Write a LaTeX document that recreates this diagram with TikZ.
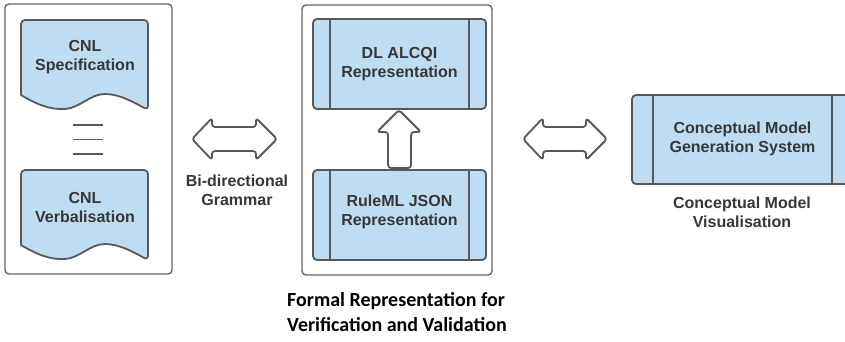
\documentclass[tikz,border=0pt]{standalone}
\usepackage{fontspec}
\setmainfont{Liberation Sans}
\newfontfamily\labelfont{Carlito}
\definecolor{boxfill}{RGB}{190,221,243}
\definecolor{edge}{RGB}{88,88,88}
\definecolor{frame}{RGB}{100,100,100}
\definecolor{ink}{RGB}{55,55,55}
\begin{document}
\begin{tikzpicture}[x=1pt,y=-1pt,
  txt/.style={font=\bfseries\fontsize{16}{19}\selectfont, text=ink, align=center, inner sep=0pt},
  caption/.style={font=\labelfont\bfseries\fontsize{20}{25}\selectfont, text=black, align=left, inner sep=0pt},
  panel/.style={draw=frame, line width=1.4pt, rounded corners=4pt, fill=white},
  shapeline/.style={draw=edge, line width=1.8pt, line join=round},
  procbox/.style={shapeline, fill=boxfill, rounded corners=4pt},
  hollow/.style={shapeline, fill=white, rounded corners=3pt}]
\useasboundingbox (0,0) rectangle (845,341);
\clip (0,0) rectangle (845,341);

% outer panels
\draw[panel] (5,4) rectangle (172,274);
\draw[panel] (302,5) rectangle (492,275);

% document shapes with wavy bottoms
\draw[procbox] (21,95) -- (21,20) -- (148,20) -- (148,110)
  [sharp corners] .. controls (135,103) and (120,94) .. (105,94)
  .. controls (90,94) and (80,108) .. (65,109)
  .. controls (50,110) and (36,104) .. (21,95) -- cycle;
\node[txt] (spec) at (85,57.5) {CNL\\Specification};

\draw[procbox] (21,245) -- (21,170) -- (148,170) -- (148,260)
  [sharp corners] .. controls (135,253) and (120,244) .. (105,244)
  .. controls (90,244) and (80,258) .. (65,259)
  .. controls (50,260) and (36,254) .. (21,245) -- cycle;
\node[txt] (verb) at (85,207.5) {CNL\\Verbalisation};

% equivalence sign between the two documents
\foreach \yy in {125,139.5,154}
  \draw[draw=edge, line width=1.8pt] (73,\yy) -- (103,\yy);

% boxes with side bars
\draw[procbox] (313,19) rectangle (486,109);
\draw[shapeline] (330,19) -- (330,109) (469,19) -- (469,109);
\node[txt] (dl) at (399.5,64) {DL ALCQI\\Representation};

\draw[procbox] (313,170) rectangle (486,260);
\draw[shapeline] (330,170) -- (330,260) (469,170) -- (469,260);
\node[txt] (ruleml) at (399.5,212) {RuleML JSON\\Representation};

\draw[procbox] (632,95) rectangle (853,184);
\draw[shapeline] (653,95) -- (653,184) (832,95) -- (832,184);
\node[txt] (cmgs) at (742.5,139) {Conceptual Model\\Generation System};

% hollow arrows
\draw[hollow] (192,139) -- (212,118) -- (212,127) -- (256,127) -- (256,118)
  -- (277,139) -- (256,160) -- (256,151) -- (212,151) -- (212,160) -- cycle;
\draw[hollow] (523,139) -- (543,118) -- (543,127) -- (586,127) -- (586,118)
  -- (607,139) -- (586,160) -- (586,151) -- (543,151) -- (543,160) -- cycle;
\draw[hollow] (399,110) -- (421,132) -- (411,132) -- (411,168) -- (388,168)
  -- (388,132) -- (377,132) -- cycle;

% labels
\node[txt] (bidir) at (237,190) {Bi-directional\\Grammar};
\node[txt] (cmv) at (742,212.5) {Conceptual Model\\Visualisation};
\node[caption, anchor=north west] (formal) at (287,292) {Formal Representation for\\Verification and Validation};
\end{tikzpicture}
\end{document}
